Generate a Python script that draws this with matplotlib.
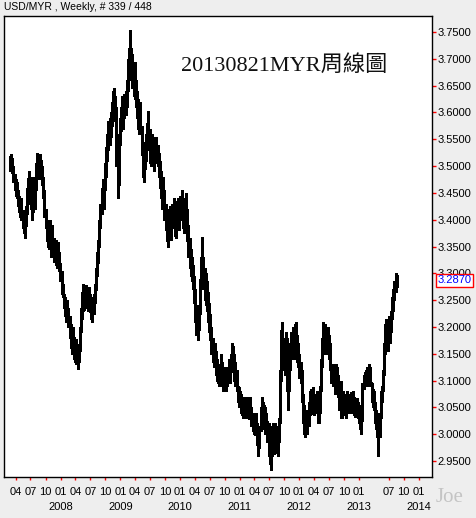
import numpy as np
import pandas as pd
import matplotlib
matplotlib.use("Agg")
import matplotlib.pyplot as plt
import matplotlib.dates as mdates
import matplotlib.transforms as mtransforms

# weekly USD/MYR bars, prices in 1/1000 MYR
FIRST_WEEK = "2007-02-26"

highs = [
    3518, 3522, 3515, 3500, 3485, 3475, 3470, 3455, 3445, 3432,
    3440, 3418, 3405, 3400, 3425, 3460, 3478, 3490, 3480, 3455,
    3470, 3480, 3470, 3505, 3525, 3515, 3522, 3512, 3500, 3480,
    3455, 3420, 3400, 3385, 3398, 3400, 3375, 3390, 3365, 3360,
    3362, 3350, 3358, 3340, 3320, 3305, 3280, 3262, 3255, 3240,
    3250, 3235, 3220, 3205, 3195, 3200, 3182, 3175, 3178, 3155,
    3168, 3200, 3235, 3265, 3280, 3270, 3278, 3268, 3265, 3275,
    3262, 3255, 3250, 3262, 3280, 3310, 3340, 3362, 3400, 3430,
    3460, 3475, 3470, 3505, 3535, 3560, 3585, 3590, 3600, 3620,
    3640, 3645, 3630, 3610, 3530, 3560, 3590, 3610, 3630, 3620,
    3635, 3640, 3660, 3700, 3720, 3754, 3720, 3710, 3690, 3695,
    3660, 3640, 3625, 3610, 3620, 3575, 3545, 3520, 3535, 3560,
    3580, 3602, 3570, 3545, 3560, 3555, 3535, 3550, 3555, 3540,
    3525, 3510, 3490, 3470, 3480, 3455, 3430, 3410, 3400, 3420,
    3425, 3410, 3430, 3440, 3420, 3410, 3435, 3440, 3425, 3445,
    3455, 3438, 3420, 3440, 3450, 3420, 3390, 3365, 3345, 3330,
    3315, 3295, 3270, 3240, 3215, 3240, 3290, 3330, 3367, 3330,
    3310, 3300, 3285, 3265, 3245, 3225, 3200, 3180, 3165, 3170,
    3155, 3140, 3130, 3125, 3150, 3135, 3115, 3125, 3120, 3110,
    3125, 3140, 3130, 3150, 3170, 3165, 3150, 3135, 3120, 3090,
    3087, 3080, 3075, 3070, 3065, 3070, 3062, 3070, 3068, 3055,
    3070, 3050, 3040, 3035, 3030, 3040, 3020, 3010, 3015, 3050,
    3070, 3060, 3055, 3050, 3040, 3025, 3020, 3000, 2990, 3015,
    3020, 3005, 3020, 3015, 3000, 3030, 3120, 3195, 3210, 3180,
    3160, 3190, 3180, 3120, 3140, 3170, 3190, 3200, 3185, 3205,
    3210, 3185, 3170, 3150, 3135, 3120, 3075, 3055, 3030, 3045,
    3040, 3060, 3080, 3085, 3075, 3087, 3070, 3075, 3080, 3060,
    3050, 3090, 3140, 3180, 3210, 3205, 3200, 3190, 3200, 3185,
    3170, 3130, 3125, 3130, 3115, 3130, 3125, 3110, 3095, 3100,
    3065, 3080, 3070, 3075, 3065, 3080, 3075, 3070, 3078, 3072,
    3080, 3070, 3065, 3068, 3060, 3055, 3045, 3040, 3095, 3110,
    3115, 3120, 3125, 3110, 3130, 3125, 3095, 3085, 3080, 3060,
    3045, 3040, 3015, 3040, 3080, 3090, 3120, 3170, 3205, 3215,
    3195, 3220, 3210, 3230, 3255, 3270, 3285, 3300, 3297,
]

lows = [
    3490, 3495, 3488, 3470, 3455, 3445, 3440, 3425, 3415, 3405,
    3400, 3385, 3375, 3365, 3388, 3410, 3430, 3435, 3420, 3400,
    3415, 3430, 3420, 3455, 3480, 3475, 3490, 3478, 3465, 3440,
    3405, 3385, 3360, 3350, 3345, 3350, 3330, 3340, 3322, 3325,
    3315, 3310, 3318, 3305, 3285, 3262, 3255, 3235, 3220, 3210,
    3215, 3200, 3180, 3160, 3150, 3160, 3140, 3135, 3130, 3122,
    3135, 3155, 3190, 3215, 3230, 3232, 3240, 3235, 3230, 3240,
    3228, 3215, 3210, 3225, 3245, 3268, 3295, 3320, 3350, 3385,
    3410, 3425, 3420, 3455, 3480, 3510, 3530, 3540, 3555, 3575,
    3595, 3600, 3585, 3500, 3440, 3465, 3540, 3565, 3575, 3570,
    3590, 3595, 3610, 3640, 3670, 3680, 3660, 3645, 3630, 3625,
    3610, 3590, 3570, 3560, 3560, 3520, 3480, 3470, 3495, 3510,
    3530, 3545, 3505, 3500, 3515, 3505, 3490, 3505, 3515, 3500,
    3480, 3460, 3440, 3420, 3430, 3400, 3380, 3360, 3350, 3375,
    3380, 3362, 3385, 3395, 3370, 3365, 3390, 3395, 3380, 3400,
    3410, 3385, 3375, 3395, 3400, 3360, 3330, 3310, 3295, 3285,
    3270, 3245, 3210, 3185, 3175, 3195, 3225, 3270, 3290, 3270,
    3250, 3240, 3230, 3210, 3190, 3175, 3150, 3135, 3125, 3128,
    3110, 3100, 3095, 3090, 3105, 3090, 3080, 3085, 3082, 3080,
    3090, 3100, 3095, 3115, 3125, 3120, 3100, 3090, 3080, 3060,
    3050, 3050, 3040, 3035, 3030, 3040, 3030, 3035, 3032, 3028,
    3035, 3015, 3005, 3000, 2998, 3005, 2980, 2960, 2975, 3005,
    3025, 3015, 3010, 3000, 3002, 2985, 2960, 2945, 2933, 2960,
    2975, 2962, 2980, 2965, 2960, 2985, 3020, 3100, 3140, 3120,
    3110, 3135, 3080, 3045, 3080, 3120, 3140, 3150, 3140, 3155,
    3160, 3135, 3125, 3105, 3095, 3060, 3020, 3000, 2995, 3005,
    3000, 3015, 3035, 3040, 3038, 3045, 3035, 3040, 3045, 3020,
    3020, 3040, 3080, 3125, 3160, 3150, 3155, 3150, 3160, 3140,
    3120, 3095, 3090, 3095, 3075, 3080, 3085, 3070, 3045, 3030,
    3030, 3040, 3035, 3040, 3030, 3045, 3040, 3045, 3048, 3040,
    3050, 3035, 3032, 3040, 3030, 3020, 3010, 3000, 3025, 3085,
    3090, 3095, 3095, 3090, 3100, 3090, 3060, 3050, 3045, 3020,
    3010, 2995, 2960, 2995, 3030, 3060, 3080, 3110, 3150, 3160,
    3155, 3175, 3170, 3190, 3215, 3230, 3250, 3265, 3275,
]

closes = [
    3505, 3510, 3495, 3478, 3462, 3468, 3448, 3435, 3420, 3425,
    3408, 3395, 3382, 3390, 3418, 3450, 3440, 3470, 3430, 3445,
    3460, 3438, 3465, 3495, 3490, 3508, 3500, 3485, 3470, 3450,
    3412, 3392, 3370, 3362, 3385, 3360, 3365, 3350, 3340, 3345,
    3330, 3340, 3325, 3318, 3295, 3270, 3262, 3245, 3230, 3235,
    3228, 3210, 3190, 3170, 3185, 3168, 3152, 3165, 3140, 3148,
    3160, 3195, 3228, 3250, 3240, 3262, 3255, 3245, 3258, 3250,
    3235, 3225, 3240, 3255, 3275, 3302, 3330, 3355, 3392, 3420,
    3448, 3440, 3462, 3498, 3525, 3550, 3565, 3575, 3590, 3610,
    3625, 3615, 3600, 3520, 3470, 3550, 3580, 3600, 3595, 3610,
    3620, 3630, 3650, 3690, 3700, 3690, 3700, 3660, 3680, 3640,
    3625, 3605, 3585, 3600, 3570, 3530, 3495, 3510, 3525, 3545,
    3570, 3555, 3520, 3535, 3548, 3515, 3525, 3540, 3530, 3512,
    3495, 3470, 3450, 3460, 3440, 3415, 3390, 3375, 3392, 3410,
    3390, 3400, 3420, 3405, 3385, 3400, 3425, 3410, 3415, 3435,
    3420, 3395, 3410, 3430, 3410, 3370, 3345, 3325, 3310, 3300,
    3280, 3255, 3225, 3200, 3205, 3230, 3280, 3300, 3310, 3285,
    3270, 3260, 3245, 3225, 3205, 3185, 3165, 3145, 3150, 3140,
    3125, 3115, 3105, 3115, 3120, 3100, 3095, 3110, 3090, 3100,
    3118, 3110, 3125, 3140, 3155, 3130, 3115, 3100, 3090, 3070,
    3065, 3060, 3050, 3045, 3055, 3050, 3042, 3060, 3040, 3048,
    3045, 3025, 3020, 3010, 3018, 3012, 2995, 2975, 3010, 3040,
    3035, 3030, 3045, 3015, 3030, 3000, 2975, 2960, 2970, 3005,
    2985, 2990, 3010, 2975, 2995, 3025, 3110, 3170, 3160, 3135,
    3150, 3175, 3100, 3085, 3130, 3160, 3180, 3165, 3175, 3190,
    3170, 3150, 3135, 3120, 3110, 3070, 3035, 3010, 3020, 3015,
    3030, 3050, 3065, 3055, 3070, 3060, 3050, 3068, 3055, 3035,
    3045, 3085, 3130, 3170, 3195, 3185, 3170, 3180, 3175, 3160,
    3130, 3110, 3115, 3105, 3085, 3120, 3095, 3080, 3055, 3045,
    3058, 3050, 3062, 3048, 3055, 3070, 3050, 3062, 3058, 3065,
    3060, 3045, 3058, 3050, 3040, 3035, 3020, 3030, 3090, 3100,
    3105, 3110, 3100, 3105, 3120, 3095, 3070, 3075, 3055, 3030,
    3040, 3005, 3000, 3035, 3070, 3085, 3115, 3160, 3180, 3170,
    3185, 3190, 3200, 3220, 3245, 3262, 3275, 3290, 3287,
]

month_tick_dates = [
    "2007-04-01", "2007-07-01", "2007-10-01",
    "2008-01-01", "2008-04-01", "2008-07-01", "2008-10-01",
    "2009-01-01", "2009-04-01", "2009-07-01", "2009-10-01",
    "2010-01-01", "2010-04-01", "2010-07-01", "2010-10-01",
    "2011-01-01", "2011-04-01", "2011-07-01", "2011-10-01",
    "2012-01-01", "2012-04-01", "2012-07-01", "2012-10-01",
    "2013-01-01", "2013-07-01", "2013-10-01", "2014-01-01",
]
month_tick_labels = [d[5:7] for d in month_tick_dates]
year_labels = ["2008", "2009", "2010", "2011", "2012", "2013", "2014"]

price_ticks = [2.95, 3.00, 3.05, 3.10, 3.15, 3.20, 3.25, 3.30, 3.35,
               3.40, 3.45, 3.50, 3.55, 3.60, 3.65, 3.70, 3.75]

header = "USD/MYR , Weekly, # 339 / 448"
title = "20130821MYR周線圖"

plt.rcParams["font.family"] = ["Liberation Sans", "DejaVu Sans"]

dates = pd.date_range(FIRST_WEEK, periods=len(closes), freq="7D")
x = mdates.date2num(dates)
hi = np.array(highs) / 1000
lo = np.array(lows) / 1000
cl = np.array(closes) / 1000
op = np.r_[cl[0], cl[:-1]]

fig = plt.figure(figsize=(4.76, 5.18), dpi=100, facecolor="#eeeeee")
ax = fig.add_axes([4 / 476, 1 - 477 / 518, 428.3 / 476, 461 / 518])
ax.set_facecolor("white")

ax.vlines(x, lo, hi, color="black", lw=1.0, antialiased=False)
ax.hlines(op, x - 3, x, color="black", lw=1.0, antialiased=False)
ax.hlines(cl, x, x + 3, color="black", lw=1.0, antialiased=False)

ax.set_xlim(x[0] - 37, x[-1] + 218)
ax.set_ylim(2.920, 3.780)

for s in ax.spines.values():
    s.set_color("black")
    s.set_linewidth(1.0)

ax.yaxis.tick_right()
ax.set_yticks(price_ticks)
ax.set_yticklabels([f"{v:.4f}" for v in price_ticks])
ax.tick_params(axis="y", colors="red", labelcolor="black", length=3, width=1,
               pad=0.5, labelsize=8)

month_x = mdates.date2num(pd.to_datetime(month_tick_dates))
ax.set_xticks(month_x)
ax.set_xticklabels(month_tick_labels)
ax.tick_params(axis="x", colors="red", labelcolor="black", length=2.5, width=1,
               pad=5, labelsize=8)

trans = mtransforms.blended_transform_factory(ax.transData, ax.transAxes)
for yl in year_labels:
    xd = mdates.date2num(pd.Timestamp(yl + "-01-01"))
    ax.text(xd, -0.065, yl, transform=trans, ha="center", va="center", fontsize=8)

fig.text(4 / 476, 1 - 7 / 518, header, ha="left", va="center", fontsize=7.5)

ax.text(0.413, 0.893, title, transform=ax.transAxes, ha="left", va="center",
        fontsize=16, family=["Liberation Serif", "Noto Sans CJK TC"], color="#111111")

ptrans = mtransforms.blended_transform_factory(ax.transAxes, ax.transData)
ax.text(1.012, cl[-1], f"{cl[-1]:.4f}", transform=ptrans, ha="left", va="center",
        fontsize=8, color="blue",
        bbox=dict(boxstyle="square,pad=0.15", fc="white", ec="red", lw=1))

fig.text(450 / 476, 1 - 497 / 518, "Joe", ha="center", va="center", fontsize=15,
         family="Liberation Serif", color="#c4c4c4")

fig.savefig("out.png", dpi=100, facecolor=fig.get_facecolor())
